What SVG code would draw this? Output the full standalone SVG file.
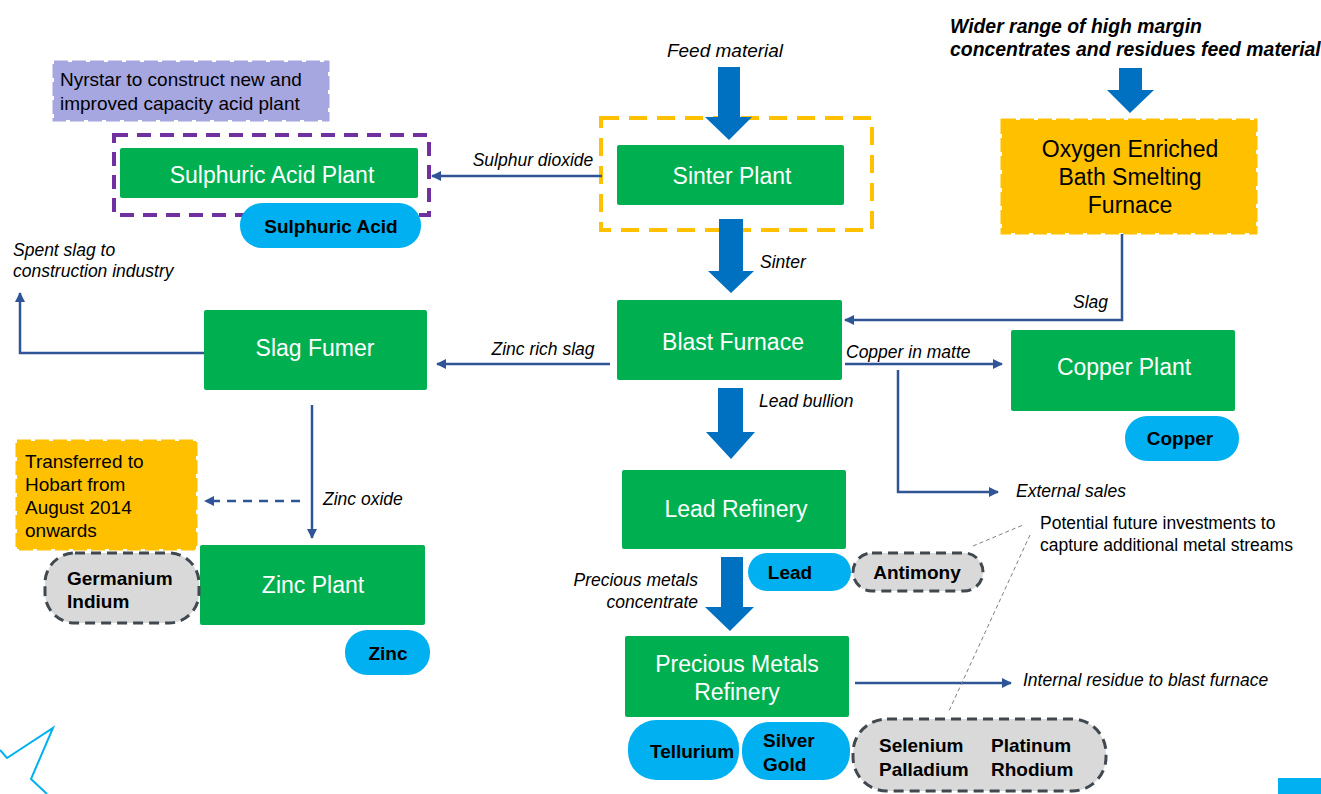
<svg xmlns="http://www.w3.org/2000/svg" width="1321" height="794" viewBox="0 0 1321 794">
<defs>
<marker id="ah" viewBox="0 0 10 10" refX="9" refY="5" markerWidth="4" markerHeight="4" orient="auto" markerUnits="strokeWidth">
<path d="M0,0 L10,5 L0,10 Z" fill="#2F5597"/>
</marker>
<style>
.g{fill:#00B050}
.gt{font-family:"Liberation Sans",Arial,sans-serif;font-size:23px;fill:#fff;text-anchor:middle}
.pill{fill:#00B0F0}
.grey{fill:#D9D9D9;stroke:#404850;stroke-width:3;stroke-dasharray:10,6}
.bt{font-family:"Liberation Sans",Arial,sans-serif;font-size:19px;font-weight:bold;fill:#000}
.lbl{font-family:"Liberation Sans",Arial,sans-serif;font-size:17.5px;font-style:italic;fill:#000}
.nt{font-family:"Liberation Sans",Arial,sans-serif;font-size:19px;fill:#000}
.ln{fill:none;stroke:#2F5597;stroke-width:2.5}
.big{fill:#0070C0}
.yel{fill:#FFC000;stroke:#FFC000;stroke-width:3;stroke-dasharray:14,4}
.ot{font-family:"Liberation Sans",Arial,sans-serif;font-size:23px;fill:#000;text-anchor:middle}
.wt{font-family:"Liberation Sans",Arial,sans-serif;font-size:19.4px;font-weight:bold;font-style:italic;fill:#000}
</style>
</defs>
<rect width="1321" height="794" fill="#fff"/>

<g id="note-acid">
<rect x="54" y="62" width="274" height="58" fill="#A6A6E0" stroke="#A6A6E0" stroke-width="3" stroke-dasharray="14,4"/>
<text class="nt" x="60" y="86">Nyrstar to construct new and</text>
<text class="nt" x="60" y="110">improved capacity acid plant</text>
</g>

<g id="acid-group">
<rect x="114" y="135" width="315" height="80" fill="none" stroke="#7030A0" stroke-width="4" stroke-dasharray="14,9"/>
</g>

<g id="sulphuric-acid-plant">
<rect class="g" x="120" y="148" width="298" height="50" rx="2"/>
<text class="gt" x="272" y="183">Sulphuric Acid Plant</text>
</g>
<g id="sulphuric-acid">
<rect class="pill" x="240" y="203" width="181" height="45" rx="22"/>
<text class="bt" x="331" y="233" text-anchor="middle">Sulphuric Acid</text>
</g>

<g id="sinter-group">
<rect x="601" y="118" width="271" height="112" fill="none" stroke="#FFC000" stroke-width="4" stroke-dasharray="18,10"/>
</g>
<g id="sinter-plant">
<rect class="g" x="617" y="145" width="227" height="60" rx="2"/>
<text class="gt" x="732" y="184">Sinter Plant</text>
</g>

<g id="oxygen-furnace">
<rect class="yel" x="1002" y="120" width="254" height="113"/>
<text class="ot" x="1130" y="157">Oxygen Enriched</text>
<text class="ot" x="1130" y="185">Bath Smelting</text>
<text class="ot" x="1130" y="213">Furnace</text>
</g>

<g id="wider-range">
<text class="wt" x="950" y="33">Wider range of high margin</text>
<text class="wt" x="950" y="56">concentrates and residues feed material</text>
</g>

<g id="blast-furnace">
<rect class="g" x="617" y="300" width="225" height="80" rx="2"/>
<text class="gt" x="733" y="350">Blast Furnace</text>
</g>

<g id="slag-fumer">
<rect class="g" x="204" y="310" width="223" height="80" rx="2"/>
<text class="gt" x="315" y="356">Slag Fumer</text>
</g>

<g id="copper-plant">
<rect class="g" x="1011" y="330" width="224" height="81" rx="2"/>
<text class="gt" x="1124" y="375">Copper Plant</text>
</g>
<g id="copper">
<rect class="pill" x="1125" y="416" width="114" height="45" rx="22"/>
<text class="bt" x="1180" y="445" text-anchor="middle">Copper</text>
</g>

<g id="lead-refinery">
<rect class="g" x="622" y="470" width="224" height="79" rx="2"/>
<text class="gt" x="736" y="517">Lead Refinery</text>
</g>
<g id="lead">
<rect class="pill" x="748" y="553" width="103" height="38" rx="19"/>
<text class="bt" x="790" y="579" text-anchor="middle">Lead</text>
</g>
<g id="antimony">
<rect class="grey" x="853" y="553" width="130" height="38" rx="19"/>
<text class="bt" x="917" y="579" text-anchor="middle">Antimony</text>
</g>

<g id="precious-metals-refinery">
<rect class="g" x="625" y="636" width="224" height="81" rx="2"/>
<text class="gt" x="737" y="672">Precious Metals</text>
<text class="gt" x="737" y="700">Refinery</text>
</g>
<g id="tellurium">
<rect class="pill" x="628" y="720" width="111" height="60" rx="28"/>
<text class="bt" x="692" y="758" text-anchor="middle">Tellurium</text>
</g>
<g id="silver-gold">
<rect class="pill" x="742" y="722" width="108" height="58" rx="27"/>
<text class="bt" x="763" y="747">Silver</text>
<text class="bt" x="763" y="771">Gold</text>
</g>
<g id="pgm">
<rect class="grey" x="853" y="719" width="253" height="72" rx="34"/>
<text class="bt" x="879" y="752">Selenium</text>
<text class="bt" x="879" y="776">Palladium</text>
<text class="bt" x="991" y="752">Platinum</text>
<text class="bt" x="991" y="776">Rhodium</text>
</g>

<g id="transferred-note">
<rect class="yel" x="17" y="441" width="179" height="108"/>
<text class="nt" x="25" y="468">Transferred to</text>
<text class="nt" x="25" y="491">Hobart from</text>
<text class="nt" x="25" y="514">August 2014</text>
<text class="nt" x="25" y="537">onwards</text>
</g>

<g id="zinc-plant">
<rect class="g" x="200" y="545" width="225" height="80" rx="2"/>
<text class="gt" x="313" y="593">Zinc Plant</text>
</g>
<g id="germanium-indium">
<rect class="grey" x="45" y="553" width="154" height="70" rx="30"/>
<text class="bt" x="67" y="585">Germanium</text>
<text class="bt" x="67" y="608">Indium</text>
</g>
<g id="zinc">
<rect class="pill" x="345" y="630" width="85" height="45" rx="22"/>
<text class="bt" x="388" y="660" text-anchor="middle">Zinc</text>
</g>

<g id="future-note">
<text x="1040" y="529" font-family="Liberation Sans, Arial, sans-serif" font-size="17.5" fill="#000">Potential future investments to</text>
<text x="1040" y="551" font-family="Liberation Sans, Arial, sans-serif" font-size="17.5" fill="#000">capture additional metal streams</text>
</g>

<g id="connectors">
<path class="big" d="M718,67 H740 V117 H752 L729,140 L705,117 H718 Z"/>
<path class="big" d="M719,219 H743 V271 H754 L731,293 L708,271 H719 Z"/>
<path class="big" d="M718,388 H743 V432 H755 L731,459 L706,432 H718 Z"/>
<path class="big" d="M721,557 H743 V607 H754 L730,631 L705,607 H721 Z"/>
<path class="big" d="M1119,68 H1142 V90 H1154 L1130,113 L1107,90 H1119 Z"/>
<text class="lbl" x="725" y="57" text-anchor="middle" style="font-size:19px">Feed material</text>
<text class="lbl" x="760" y="268">Sinter</text>
<text class="lbl" x="759" y="407">Lead bullion</text>
<text class="lbl" x="698" y="586" text-anchor="end">Precious metals</text>
<text class="lbl" x="698" y="608" text-anchor="end">concentrate</text>

<line class="ln" x1="602" y1="176" x2="432" y2="176" marker-end="url(#ah)"/>
<text class="lbl" x="533" y="166" text-anchor="middle">Sulphur dioxide</text>

<polyline class="ln" points="1122,234 1122,320 845,320" marker-end="url(#ah)"/>
<text class="lbl" x="1108" y="308" text-anchor="end">Slag</text>

<line class="ln" x1="610" y1="364" x2="437" y2="364" marker-end="url(#ah)"/>
<text class="lbl" x="543" y="355" text-anchor="middle">Zinc rich slag</text>

<polyline class="ln" points="204,353 20,353 20,293" marker-end="url(#ah)"/>
<text class="lbl" x="13" y="256">Spent slag to</text>
<text class="lbl" x="13" y="277">construction industry</text>

<line class="ln" x1="845" y1="364" x2="1002" y2="364" marker-end="url(#ah)"/>
<text class="lbl" x="846" y="358">Copper in matte</text>
<polyline class="ln" points="898,370 898,492 998,492" marker-end="url(#ah)"/>
<text class="lbl" x="1016" y="497">External sales</text>

<line class="ln" x1="312" y1="405" x2="312" y2="538" marker-end="url(#ah)"/>
<text class="lbl" x="323" y="505">Zinc oxide</text>
<line class="ln" x1="300" y1="501" x2="205" y2="501" stroke-dasharray="9,7" marker-end="url(#ah)"/>

<line class="ln" x1="855" y1="683" x2="1011" y2="683" marker-end="url(#ah)"/>
<text class="lbl" x="1023" y="686">Internal residue to blast furnace</text>

<line x1="973" y1="546" x2="1023" y2="525" stroke="#808080" stroke-width="1" stroke-dasharray="4,3"/>
<line x1="1030" y1="535" x2="948" y2="713" stroke="#808080" stroke-width="1" stroke-dasharray="4,3"/>
</g>

<g id="decor">
<polyline points="0,750 7,758 53,728 31,779 47,794" fill="none" stroke="#00B0F0" stroke-width="2"/>
<rect x="1278" y="778" width="43" height="16" fill="#00B0F0"/>
</g>
</svg>
